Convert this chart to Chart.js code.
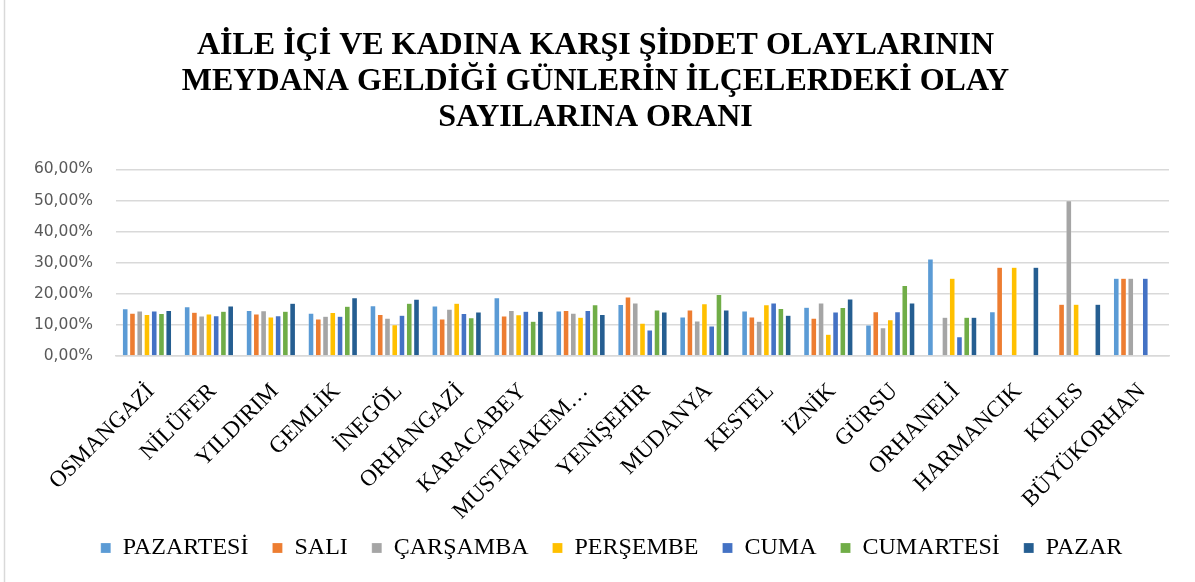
<!DOCTYPE html>
<html>
<head>
<meta charset="utf-8">
<script src="https://cdn.jsdelivr.net/npm/chart.js@4.4.1/dist/chart.umd.min.js"></script>
<style>
html,body{margin:0;padding:0;background:#fff;}
#wrap{position:relative;width:1195px;height:582px;}
</style>
</head>
<body>
<div id="wrap"><canvas id="c" width="1195" height="582"></canvas></div>
<script>
const categories = ["OSMANGAZİ","NİLÜFER","YILDIRIM","GEMLİK","İNEGÖL","ORHANGAZİ","KARACABEY","MUSTAFAKEM…","YENİŞEHİR","MUDANYA","KESTEL","İZNİK","GÜRSU","ORHANELİ","HARMANCIK","KELES","BÜYÜKORHAN"];
const seriesNames = ["PAZARTESİ","SALI","ÇARŞAMBA","PERŞEMBE","CUMA","CUMARTESİ","PAZAR"];
const seriesColors = ["#5B9BD5","#ED7D31","#A5A5A5","#FFC000","#4472C4","#70AD47","#255E91"];
const pazartesi = [15.2,15.9,14.7,13.8,16.2,16.1,18.8,14.5,16.6,12.6,14.5,15.7,10.0,31.25,14.29,0,25];
const sali      = [13.8,14.1,13.5,11.9,13.4,11.9,12.9,14.7,19.0,14.8,12.6,12.2,14.3,0,28.57,16.67,25];
const carsamba  = [14.5,12.9,14.6,12.8,12.2,15.1,14.7,13.8,17.1,11.3,11.2,17.1,9.1,12.5,0,50,25];
const persembe  = [13.4,13.5,12.6,14.0,10.1,17.0,13.3,12.5,10.6,16.8,16.5,7.0,11.7,25,28.57,16.67,0];
const cuma      = [14.5,13.0,13.0,12.8,13.1,13.7,14.4,14.7,8.4,9.7,17.1,14.2,14.3,6.25,0,0,25];
const cumartesi = [13.7,14.4,14.4,16.0,17.0,12.3,11.2,16.5,14.8,19.8,15.3,15.6,22.7,12.5,0,0,0];
const pazar     = [14.7,16.1,17.0,18.8,18.3,14.2,14.4,13.4,14.2,14.8,13.1,18.4,17.1,12.5,28.57,16.67,0];
const seriesValues = [pazartesi,sali,carsamba,persembe,cuma,cumartesi,pazar];
const yTickLabels = ["0,00%","10,00%","20,00%","30,00%","40,00%","50,00%","60,00%"];
const titleLines = ["AİLE İÇİ VE KADINA KARŞI ŞİDDET OLAYLARININ","MEYDANA GELDİĞİ GÜNLERİN İLÇELERDEKİ OLAY","SAYILARINA ORANI"];

const borderPlugin = {
  id:'outerBorder',
  afterLayout(chart){
    if (chart.legend) { chart.legend.left += 16; chart.legend.right += 16; }
  },
  afterDraw(chart){
    const ctx = chart.ctx;
    ctx.save();
    ctx.strokeStyle = '#d9d9d9';
    ctx.lineWidth = 1.5;
    ctx.beginPath();
    ctx.moveTo(4.5,0); ctx.lineTo(4.5,582);
    ctx.stroke();
    ctx.restore();
  }
};

new Chart(document.getElementById('c'), {
  type:'bar',
  data:{
    labels: categories,
    datasets: seriesNames.map((n,i)=>({
      label:n,
      data:seriesValues[i],
      backgroundColor:seriesColors[i],
      borderColor:'rgba(255,255,255,0.35)',
      borderWidth:0.6,
      categoryPercentage:0.82,
      barPercentage:0.8
    }))
  },
  options:{
    responsive:false,
    animation:false,
    devicePixelRatio:1,
    layout:{padding:{left:22,right:26,top:14,bottom:12}},
    plugins:{
      title:{
        display:true,
        text:titleLines,
        color:'#000',
        font:{family:'"Liberation Serif","Times New Roman",serif',size:32,weight:'bold',lineHeight:1.14},
        padding:{top:13,bottom:33}
      },
      legend:{
        position:'bottom',
        labels:{
          boxWidth:10,boxHeight:10,
          color:'#000',
          padding:24,
          font:{family:'"Liberation Serif","Times New Roman",serif',size:24}
        }
      },
      tooltip:{enabled:false}
    },
    scales:{
      x:{
        grid:{display:false,drawTicks:false},
        border:{display:true,color:'#d9d9d9',width:1.5},
        afterFit(scale){
          scale.paddingLeft=0;scale.paddingRight=0;scale.height=156;
          scale._computeLabelArea = function(){ return undefined; };
        },
        ticks:{
          autoSkip:false,minRotation:45,maxRotation:45,
          color:'#000',padding:22,labelOffset:4,
          font:{family:'"Liberation Serif","Times New Roman",serif',size:23}
        }
      },
      y:{
        min:0,max:60,
        grid:{color:'#d9d9d9',lineWidth:1.5,drawTicks:false},
        border:{display:false},
        afterFit(scale){scale.width=94;},
        ticks:{
          stepSize:10,padding:23,color:'#595959',
          font:{family:'"DejaVu Sans",sans-serif',size:15.5},
          callback:(v)=>yTickLabels[Math.round(v/10)]
        }
      }
    }
  },
  plugins:[borderPlugin]
});
</script>
</body>
</html>
